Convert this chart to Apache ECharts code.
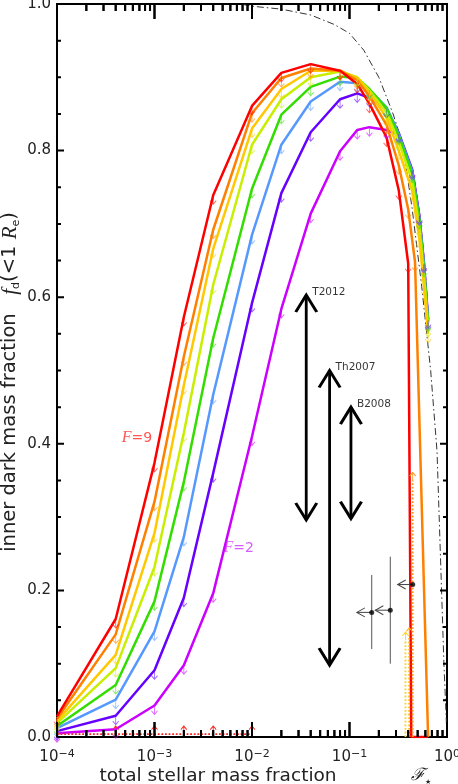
<!DOCTYPE html>
<html><head><meta charset="utf-8">
<script src="https://cdn.jsdelivr.net/npm/echarts@6/dist/echarts.min.js"></script>
<style>html,body{margin:0;padding:0;background:#fff}#c{width:458px;height:784px}</style>
</head><body><div id="c"></div>
<script>
// ---------------- data ----------------
const xMajorTicks = [1e-4, 1e-3, 1e-2, 1e-1, 1];
const xMinorTicks = [2e-4,3e-4,4e-4,5e-4,6e-4,7e-4,8e-4,9e-4,
                     2e-3,3e-3,4e-3,5e-3,6e-3,7e-3,8e-3,9e-3,
                     0.02,0.03,0.04,0.05,0.06,0.07,0.08,0.09,
                     0.2,0.3,0.4,0.5,0.6,0.7,0.8,0.9];
const yMajorTicks = [0, 0.2, 0.4, 0.6, 0.8, 1.0];
const yMinorTicks = [0.05,0.1,0.15,0.25,0.3,0.35,0.45,0.5,0.55,0.65,0.7,0.75,0.85,0.9,0.95];
const yTickLabels = ['0.0','0.2','0.4','0.6','0.8','1.0'];

const curveRed     = [[1e-4,.028],[4e-4,.161],[1e-3,.374],[2e-3,.573],[4e-3,.739],[.01,.861],[.02,.906],[.04,.918],[.08,.909],[.12,.891],[.16,.864],[.24,.818],[.32,.746],[.40,.646]];
const tailRed      = [[.43,0],[.64,0]];
const curveOrange  = [[1e-4,.025],[4e-4,.140],[1e-3,.321],[2e-3,.519],[4e-3,.692],[.01,.851],[.02,.899],[.04,.912],[.08,.909],[.12,.896],[.16,.874],[.24,.835],[.32,.780],[.40,.720],[.47,.648]];
const tailOrange   = [[.64,0]];
const curveYellow  = [[1e-4,.022],[4e-4,.112],[1e-3,.278],[2e-3,.480],[4e-3,.666],[.01,.830],[.02,.884],[.04,.909],[.08,.909],[.12,.899],[.16,.879],[.24,.845],[.32,.800],[.44,.745],[.52,.680],[.58,.615],[.64,.550]];
const curveLime    = [[1e-4,.019],[4e-4,.094],[1e-3,.232],[2e-3,.415],[4e-3,.617],[.01,.808],[.02,.870],[.04,.900],[.08,.908],[.12,.900],[.16,.882],[.24,.852],[.32,.812],[.44,.758],[.52,.695],[.58,.630],[.64,.558]];
const curveGreen   = [[1e-4,.015],[4e-4,.071],[1e-3,.185],[2e-3,.348],[4e-3,.544],[.01,.748],[.02,.849],[.04,.887],[.08,.901],[.12,.899],[.16,.884],[.24,.858],[.32,.820],[.44,.768],[.52,.705],[.58,.640],[.64,.565]];
const curveBlue    = [[1e-4,.012],[4e-4,.051],[1e-3,.144],[2e-3,.273],[4e-3,.467],[.01,.685],[.02,.808],[.04,.867],[.08,.894],[.12,.892],[.16,.883],[.24,.859],[.32,.823],[.44,.772],[.52,.710],[.58,.645],[.64,.568]];
const curvePurple  = [[1e-4,.008],[4e-4,.029],[1e-3,.091],[2e-3,.190],[4e-3,.360],[.01,.592],[.02,.742],[.04,.825],[.08,.870],[.12,.878],[.16,.872],[.24,.857],[.32,.824],[.44,.774],[.52,.712],[.58,.647],[.64,.570]];
const curveMagenta = [[1e-4,.005],[4e-4,.0105],[1e-3,.043],[2e-3,.098],[4e-3,.196],[.01,.410],[.02,.584],[.04,.714],[.08,.799],[.12,.828],[.16,.832],[.24,.828],[.32,.822],[.44,.772],[.52,.710],[.58,.645],[.64,.567]];

const boundCurve = [[0.008,.9995],[0.01,.997],[0.02,.993],[0.04,.985],[0.07,.972],[0.1,.96],[0.14,.937],[0.2,.90],[0.28,.85],[0.35,.81],[0.44,.72],[0.55,.615],[0.68,.50],[0.79,.39],[0.86,.24],[0.93,.10],[1.0,0.0]];

const limitBottomRed = [[1e-4,.004],[4e-4,.004],[1e-3,.004],[2e-3,.004],[4e-3,.004],[1e-2,.004]];
const limitVertGold   = [[.375,0],[.375,.132]];
const limitVertOrange = [[.41,0],[.41,.138]];
const limitVertOrange2 = [[.445,0],[.445,.35]];

const rangeNames = ['T2012','Th2007','B2008'];
const rangeX     = [0.036, 0.0625, 0.1035];
const rangeLo    = [0.296, 0.098, 0.298];
const rangeHi    = [0.603, 0.500, 0.450];

const ptX    = [0.169, 0.262, 0.445];
const ptY    = [0.170, 0.173, 0.208];
const ptErrLo = [0.120, 0.100, null];
const ptErrHi = [0.221, 0.246, null];
const ptLimX = [0.119, 0.184, 0.312];

const labelF9 = [6.6e-4, 0.408];
const labelF2 = [7.3e-3, 0.258];

// ---------------- layout ----------------
const W = 458, H = 784;
const GRID = {left: 57, right: 11, top: 4, bottom: 47};
const PLOT_H = H - GRID.top - GRID.bottom;
const PLOT_W = W - GRID.left - GRID.right;
const X_MAJOR_LEN = 15, X_MINOR_LEN = 7, Y_MAJOR_LEN = 7, Y_MINOR_LEN = 4;

// ---------------- chart ----------------
const FONT = 'DejaVu Sans';
const arrowDown = 'path://M4,0L4,9M0,5L4,9L8,5';
const arrowUp = 'path://M4,9L4,0M0,4L4,0L8,4';
const chevUp = 'path://M0,10L10,0L20,10';
const chevDown = 'path://M0,0L10,10L20,0';
const chevLeft = 'path://M10,0L0,10L10,20';

function curve(pts, tail, color) {
  const data = pts.map(p => ({value: p}));
  (tail || []).forEach(p => data.push({value: p, symbol: 'none'}));
  return {type: 'line', data, symbol: arrowDown, symbolSize: [6, 8], symbolOffset: [0, 5],
    showAllSymbol: true,
    itemStyle: {color: 'none', borderColor: color, borderWidth: 1, opacity: 0.6},
    lineStyle: {color, width: 2.5}, silent: true, z: 3};
}

const series = [];

function xTickLines(vals, lenPx) {
  const d = lenPx / PLOT_H;
  const data = [];
  vals.forEach(v => {
    data.push([v, 0], [v, d], [v, '-']);
    data.push([v, 1], [v, 1 - d], [v, '-']);
  });
  return {type: 'line', data, symbol: 'none', silent: true, z: 8, connectNulls: false,
    lineStyle: {color: '#000', width: 2}};
}
function yTickLines(vals, lenPx) {
  const k = Math.pow(10, 4 * lenPx / PLOT_W);
  const data = [];
  vals.forEach(v => {
    data.push([1e-4, v], [1e-4 * k, v], [1e-4 * k, '-']);
    data.push([1, v], [1 / k, v], [1 / k, '-']);
  });
  return {type: 'line', data, symbol: 'none', silent: true, z: 8, connectNulls: false,
    lineStyle: {color: '#000', width: 2}};
}
series.push(xTickLines(xMajorTicks, X_MAJOR_LEN));
series.push(xTickLines(xMinorTicks, X_MINOR_LEN));
series.push(yTickLines(yMajorTicks, Y_MAJOR_LEN));
series.push(yTickLines(yMinorTicks, Y_MINOR_LEN));

series.push({type: 'line', data: boundCurve, symbol: 'none', silent: true, z: 2,
  lineStyle: {color: '#333', width: 1, type: [7, 3, 1.5, 3]}});
series.push(curve(curveMagenta, null, '#cc00ff'));
series.push(curve(curvePurple, null, '#6600ff'));
series.push(curve(curveBlue, null, '#5599ff'));
series.push(curve(curveGreen, null, '#33dd00'));
series.push(curve(curveLime, null, '#c8ee00'));
series.push(curve(curveYellow, null, '#ffc800'));
series.push(curve(curveOrange, tailOrange, '#ff8000'));
series.push(curve(curveRed, tailRed, '#ff0000'));

function dottedLimit(pts, color, arrowAll) {
  const data = pts.map((p, i) => {
    const showArrow = arrowAll ? i > 0 : i === pts.length - 1;
    return showArrow ? {value: p} : {value: p, symbol: 'none'};
  });
  return {type: 'line', data, symbol: arrowUp, symbolSize: [6, 8], symbolOffset: [0, -4],
    itemStyle: {color: 'none', borderColor: color, borderWidth: 1},
    lineStyle: {color, width: 1.8, type: 'dotted'}, silent: true, z: 4};
}
series.push(dottedLimit(limitBottomRed, '#ff2020', true));
series.push(dottedLimit(limitVertGold, '#ffd21a', false));
series.push(dottedLimit(limitVertOrange, '#ffb000', false));
series.push(dottedLimit(limitVertOrange2, '#ff9a20', false));

rangeNames.forEach((nm, i) => {
  series.push({type: 'line', silent: true, z: 6,
    lineStyle: {color: '#000', width: 2.8},
    itemStyle: {color: 'none', borderColor: '#000', borderWidth: 2.8},
    symbolSize: [21, 17],
    data: [
      {value: [rangeX[i], rangeLo[i]], symbol: chevDown, symbolOffset: [0, -8.5]},
      {value: [rangeX[i], rangeHi[i]], symbol: chevUp, symbolOffset: [0, 8.5]}
    ]});
  series.push({type: 'scatter', silent: true, z: 7, symbolSize: 1, itemStyle: {color: 'transparent'},
    data: [{value: [rangeX[i], rangeHi[i]],
      label: {show: true, formatter: nm, position: 'right', distance: 0, offset: [5.5, -3],
        fontFamily: FONT, fontSize: 10.5, color: '#000'}}]});
});

ptX.forEach((x, i) => {
  if (ptErrLo[i] !== null) {
    series.push({type: 'line', silent: true, z: 5, symbol: 'none',
      lineStyle: {color: '#555', width: 1},
      data: [[x, ptErrLo[i]], [x, ptErrHi[i]]]});
  }
  series.push({type: 'line', silent: true, z: 5,
    lineStyle: {color: '#444', width: 1},
    itemStyle: {color: 'none', borderColor: '#444', borderWidth: 1},
    data: [{value: [x, ptY[i]], symbol: 'none'},
           {value: [ptLimX[i], ptY[i]], symbol: chevLeft, symbolSize: [8, 9], symbolOffset: [4, 0]}]});
});
series.push({type: 'scatter', silent: true, z: 6, symbol: 'circle', symbolSize: 5,
  itemStyle: {color: '#000'}, data: ptX.map((x, i) => [x, ptY[i]])});

function fLabel(pos, num, color) {
  return {type: 'scatter', silent: true, z: 7, symbolSize: 1, itemStyle: {color: 'transparent'},
    data: [{value: pos, label: {show: true, position: 'inside',
      formatter: '{i|F}{n|=' + num + '}',
      rich: {i: {fontFamily: 'Liberation Serif', fontStyle: 'italic', fontSize: 16, color},
             n: {fontFamily: FONT, fontSize: 14, color}}}}]};
}
series.push(fLabel(labelF9, 9, '#ff2a2a'));
series.push(fLabel(labelF2, 2, '#cc33ff'));

const axisLineStyle = {show: true, onZero: false, lineStyle: {color: '#000', width: 2}};
const xLabelFmt = v => {
  const e = Math.round(Math.log10(v));
  return '{b|10}{s|' + (e < 0 ? '\u2212' + (-e) : e) + '}';
};
const xRich = {
  b: {fontFamily: FONT, fontSize: 15, color: '#222', lineHeight: 16, verticalAlign: 'bottom'},
  s: {fontFamily: FONT, fontSize: 11, color: '#222', lineHeight: 12, verticalAlign: 'top'}
};

const option = {
  animation: false,
  backgroundColor: '#fff',
  grid: {left: GRID.left, right: GRID.right, top: GRID.top, bottom: GRID.bottom,
         containLabel: false, outerBoundsMode: 'none',
         show: true, borderColor: '#000', borderWidth: 2, backgroundColor: 'transparent'},
  xAxis: {type: 'log', logBase: 10, min: xMajorTicks[0], max: xMajorTicks[xMajorTicks.length - 1],
     axisLine: axisLineStyle, splitLine: {show: false}, axisTick: {show: false},
     axisLabel: {show: true, margin: 12, formatter: xLabelFmt, rich: xRich, showMinLabel: true, showMaxLabel: true}},
  yAxis: {type: 'value', min: 0, max: 1, interval: 0.2,
     axisLine: axisLineStyle, splitLine: {show: false}, axisTick: {show: false}, minorTick: {show: false},
     axisLabel: {show: true, margin: 6, fontFamily: FONT, fontSize: 15, color: '#222',
       formatter: v => yTickLabels[Math.round(v / 0.2)]}},
  graphic: [
    {type: 'text', x: 10, y: 382, rotation: Math.PI / 2, z: 10,
     style: {text: '{a|inner dark mass fraction   }{i|f}{d|d}{a|(<1 }{i|R}{d|e}{a|)}',
       align: 'center', verticalAlign: 'middle',
       rich: {a: {fontFamily: FONT, fontSize: 19.5, fill: '#222', lineHeight: 24},
              i: {fontFamily: 'Liberation Serif', fontStyle: 'italic', fontSize: 21, fill: '#222', lineHeight: 24},
              d: {fontFamily: FONT, fontSize: 11, fill: '#222', lineHeight: 13, verticalAlign: 'bottom'}}}},
    {type: 'text', x: 218, y: 776, z: 10,
     style: {text: 'total stellar mass fraction', align: 'center', verticalAlign: 'middle',
       fontFamily: FONT, fontSize: 18.5, fill: '#222'}},
    {type: 'text', x: 411, y: 776, z: 10,
     style: {text: '{f|\u2131}{s|\u2605}', align: 'left', verticalAlign: 'middle',
       rich: {f: {fontFamily: 'DejaVu Serif', fontStyle: 'italic', fontSize: 17, fill: '#222', lineHeight: 20},
              s: {fontFamily: FONT, fontSize: 7, fill: '#222', lineHeight: 9, verticalAlign: 'bottom'}}}}
  ],
  series
};
const chart = echarts.init(document.getElementById('c'), null, {renderer: 'canvas', width: W, height: H});
chart.setOption(option);

// x ticks (top & bottom), positioned through the chart's own log scale
(function drawXTicks() {
  const zr = chart.getZr();
  function add(vals, len) {
    vals.forEach(v => {
      const b = chart.convertToPixel({xAxisIndex: 0, yAxisIndex: 0}, [v, 0]);
      const t = chart.convertToPixel({xAxisIndex: 0, yAxisIndex: 0}, [v, 1]);
      zr.add(new echarts.graphic.Line({shape: {x1: b[0], y1: b[1], x2: b[0], y2: b[1] - len},
        style: {stroke: '#000', lineWidth: 2}, z: 100, silent: true}));
      zr.add(new echarts.graphic.Line({shape: {x1: t[0], y1: t[1], x2: t[0], y2: t[1] + len},
        style: {stroke: '#000', lineWidth: 2}, z: 100, silent: true}));
    });
  }
  add(xMajorTicks, X_MAJOR_LEN);
  add(xMinorTicks, X_MINOR_LEN);
})();
</script>
</body></html>
